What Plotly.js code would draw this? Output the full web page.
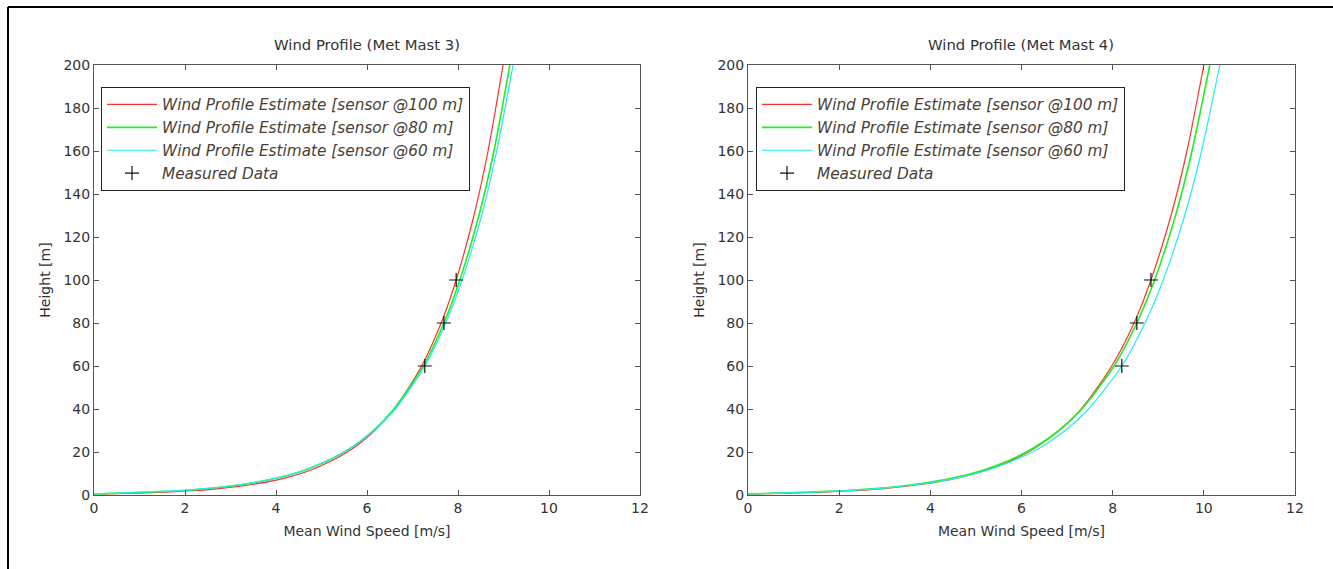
<!DOCTYPE html>
<html>
<head>
<meta charset="utf-8">
<script src="https://cdn.plot.ly/plotly-3.0.1.min.js"></script>
<style>html,body{margin:0;padding:0;background:#fff;}#chart{width:1333px;height:569px;}</style>
</head>
<body>
<div id="chart"></div>
<script>
// Heights (m) at which curves were read
const heights = [0.5, 1, 2, 3, 5, 8, 12, 20, 30, 40, 60, 80, 100, 130, 160, 200];

// Met Mast 3 wind profile estimates (m/s)
const mast3Sensor100 = [0.09, 1.12, 2.15, 2.75, 3.51, 4.21, 4.81, 5.57, 6.17, 6.60, 7.20, 7.63, 7.96, 8.35, 8.66, 8.99];
const mast3Sensor80  = [0.00, 0.76, 1.86, 2.50, 3.31, 4.05, 4.69, 5.50, 6.14, 6.59, 7.24, 7.69, 8.04, 8.46, 8.79, 9.14];
const mast3Sensor60  = [0.00, 0.67, 1.79, 2.44, 3.27, 4.02, 4.68, 5.50, 6.15, 6.62, 7.27, 7.73, 8.09, 8.52, 8.85, 9.21];

// Met Mast 4 wind profile estimates (m/s)
const mast4Sensor100 = [0.00, 1.13, 2.29, 2.97, 3.82, 4.61, 5.29, 6.15, 6.82, 7.31, 7.98, 8.47, 8.84, 9.28, 9.63, 10.00];
const mast4Sensor80  = [0.00, 0.88, 2.09, 2.80, 3.69, 4.51, 5.22, 6.11, 6.82, 7.32, 8.03, 8.53, 8.92, 9.38, 9.74, 10.13];
const mast4Sensor60  = [0.00, 0.89, 2.12, 2.85, 3.76, 4.60, 5.32, 6.24, 6.96, 7.47, 8.20, 8.71, 9.11, 9.58, 9.95, 10.35];

// Measured data
const sensorHeights = [60, 80, 100];
const mast3Measured = [7.27, 7.69, 7.96];
const mast4Measured = [8.20, 8.53, 8.84];

const seriesNames = [
  'Wind Profile Estimate [sensor @100 m]',
  'Wind Profile Estimate [sensor @80 m]',
  'Wind Profile Estimate [sensor @60 m]',
  'Measured Data'
];
const xTicks = [0, 2, 4, 6, 8, 10, 12];
const yTicks = [0, 20, 40, 60, 80, 100, 120, 140, 160, 180, 200];

const colors = ['#ff3030', '#22ee22', '#22eeee'];
const widths = [1.2, 1.6, 1.2];

function curves(vals, xa, ya, lg) {
  return vals.map((v, i) => ({
    type: 'scatter', mode: 'lines', x: v, y: heights,
    xaxis: xa, yaxis: ya, legend: lg,
    name: seriesNames[i],
    line: {color: colors[i], width: widths[i], shape: 'spline', smoothing: 0.8},
    hoverinfo: 'skip'
  }));
}
const markerStyle = {symbol: 'cross-thin', size: 10, line: {color: '#111', width: 1.2}, color: '#111'};

const traces = [
  ...curves([mast3Sensor100, mast3Sensor80, mast3Sensor60], 'x', 'y', 'legend'),
  {type: 'scatter', mode: 'markers', x: mast3Measured, y: sensorHeights, xaxis: 'x', yaxis: 'y', legend: 'legend',
   name: seriesNames[3], marker: markerStyle},
  ...curves([mast4Sensor100, mast4Sensor80, mast4Sensor60], 'x2', 'y2', 'legend2'),
  {type: 'scatter', mode: 'markers', x: mast4Measured, y: sensorHeights, xaxis: 'x2', yaxis: 'y2', legend: 'legend2',
   name: seriesNames[3], marker: markerStyle}
];

const W = 1333, H = 569;
const px = v => v / W;
const py = v => 1 - v / H;

const FAM = 'DejaVu Sans, Liberation Sans, Arial, sans-serif';
const tickFont = {family: FAM, size: 14, color: '#333'};
const titleFont = {family: FAM, size: 14, color: '#333'};
function xAxis(dom, anchor) {
  return {
    domain: dom, anchor: anchor, range: [0, 12], tickvals: xTicks, ticks: 'inside', ticklen: 5,
    tickcolor: '#555', showline: true, linecolor: '#555', linewidth: 1, mirror: 'ticks',
    showgrid: false, zeroline: false, tickfont: tickFont,
    title: {text: 'Mean Wind Speed [m/s]', font: titleFont, standoff: 11}
  };
}
function yAxis(anchor) {
  return {
    domain: [py(495), py(65)], anchor: anchor, range: [0, 200], tickvals: yTicks, ticks: 'inside', ticklen: 5,
    tickcolor: '#555', showline: true, linecolor: '#555', linewidth: 1, mirror: 'ticks',
    showgrid: false, zeroline: false, tickfont: tickFont,
    title: {text: 'Height [m]', font: titleFont, standoff: 9}
  };
}
const legendBase = {
  xref: 'paper', yref: 'paper', xanchor: 'left', yanchor: 'top', y: py(87),
  bordercolor: '#222', borderwidth: 1, bgcolor: '#fff',
  font: {family: FAM, size: 15.3, color: '#4a4036', style: 'italic'},
  itemwidth: 50, tracegroupgap: 0
};

const layout = {
  width: W, height: H,
  margin: {l: 0, r: 0, t: 0, b: 0, autoexpand: false},
  paper_bgcolor: '#fff', plot_bgcolor: '#fff',
  showlegend: true,
  xaxis: xAxis([px(94), px(640)], 'y'),
  yaxis: yAxis('x'),
  xaxis2: xAxis([px(748), px(1295)], 'y2'),
  yaxis2: yAxis('x2'),
  legend: Object.assign({}, legendBase, {x: px(101)}),
  legend2: Object.assign({}, legendBase, {x: px(756)}),
  annotations: [
    {text: 'Wind Profile (Met Mast 3)', xref: 'paper', yref: 'paper', x: px(367), y: py(45), showarrow: false,
     xanchor: 'center', yanchor: 'middle', font: {family: FAM, size: 14.8, color: '#333'}},
    {text: 'Wind Profile (Met Mast 4)', xref: 'paper', yref: 'paper', x: px(1021), y: py(45), showarrow: false,
     xanchor: 'center', yanchor: 'middle', font: {family: FAM, size: 14.8, color: '#333'}}
  ],
  shapes: [
    {type: 'line', xref: 'paper', yref: 'paper', x0: px(8), x1: 1, y0: py(7), y1: py(7), line: {color: '#000', width: 2}},
    {type: 'line', xref: 'paper', yref: 'paper', x0: px(8), x1: px(8), y0: py(7), y1: 0, line: {color: '#000', width: 2}}
  ]
};

Plotly.newPlot('chart', traces, layout, {displayModeBar: false, staticPlot: true});
</script>
</body>
</html>
